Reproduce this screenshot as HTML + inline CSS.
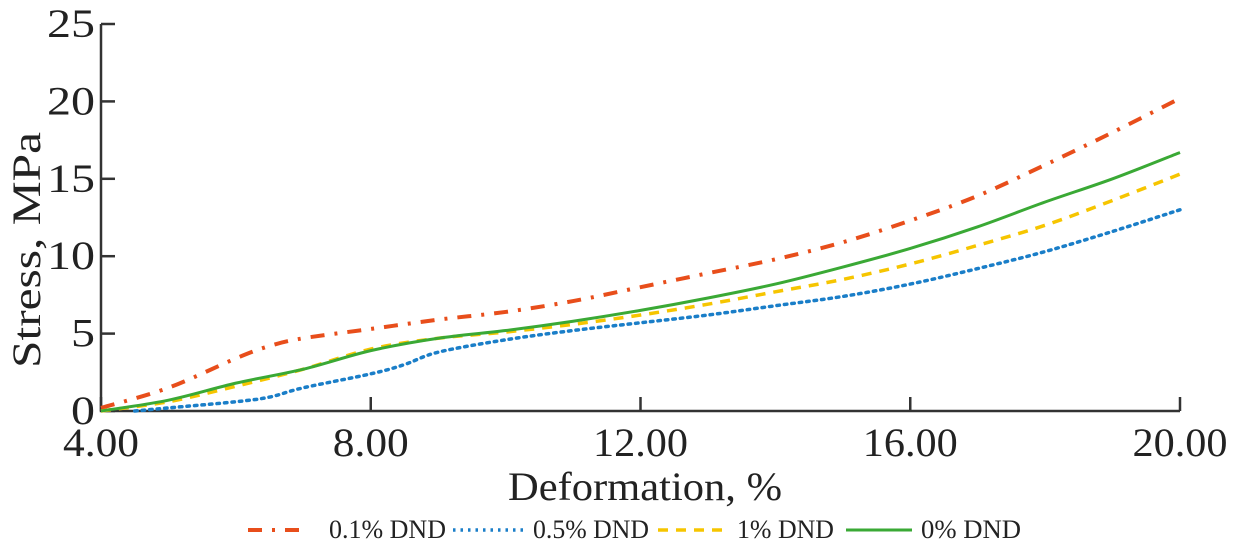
<!DOCTYPE html>
<html><head><meta charset="utf-8"><style>
body{margin:0;background:#fff;width:1245px;height:547px;overflow:hidden}
text{font-family:"Liberation Serif",serif;fill:#222}
</style></head><body>
<svg id="chart" width="1245" height="547" xmlns="http://www.w3.org/2000/svg">
<g id="axes"></g><g id="series"></g><g id="legend"></g>
</svg>
<script>
const xTicks=[4,8,12,16,20];
const xTickLabels=["4.00","8.00","12.00","16.00","20.00"];
const yTicks=[0,5,10,15,20,25];
const redX=[4,5,6,6.5,7,8,9,10,11,12,13,14,15,16,17,18,19,20];
const redY=[0.2,1.5,3.4,4.2,4.7,5.3,5.9,6.4,7.1,8.0,8.9,9.8,10.9,12.3,13.9,15.9,18.0,20.2];
const blueX=[4.5,5,6,6.5,7,8,8.5,9,10,11,12,13,14,15,16,17,18,19,20];
const blueY=[0,0.2,0.6,0.9,1.5,2.4,3.0,3.8,4.6,5.2,5.7,6.2,6.8,7.4,8.2,9.2,10.3,11.6,13.0];
const yelX=[4,5,6,7,8,9,10,11,12,13,14,15,16,17,18,19,20];
const yelY=[0,0.6,1.6,2.7,4.0,4.7,5.1,5.6,6.2,6.9,7.7,8.5,9.5,10.7,12.0,13.6,15.3];
const grnX=[4,5,6,7,8,9,10,11,12,13,14,15,16,17,18,19,20];
const grnY=[0,0.7,1.8,2.7,3.9,4.7,5.2,5.8,6.5,7.3,8.2,9.3,10.5,11.9,13.5,15.0,16.7];
const NS="http://www.w3.org/2000/svg";
const X0=101,X1=1180,Y0=411,Y1=24;
const sx=v=>X0+(v-4)/16*(X1-X0);
const sy=v=>Y0-v/25*(Y0-Y1);
function mk(tag,attrs,parent){const e=document.createElementNS(NS,tag);for(const k in attrs)e.setAttribute(k,attrs[k]);parent.appendChild(e);return e;}
const axes=document.getElementById('axes');
let a=mk('path',{d:`M${X0},${Y1}V${Y0}H${X1}`,stroke:'#333','stroke-width':2.5,fill:'none'},axes);


yTicks.forEach(v=>{
 let t=mk('line',{x1:X0,x2:X0+14,y1:sy(v),y2:sy(v),stroke:'#333','stroke-width':2.5},axes);
 
 
 const s=String(v);
 let l=mk('text',{x:X0-6,y:sy(v)+13,'text-anchor':'end','font-size':40,textLength:s.length*24,lengthAdjust:'spacingAndGlyphs'},axes);l.textContent=s;
 
 
});
xTicks.forEach((v,i)=>{
 let t=mk('line',{x1:sx(v),x2:sx(v),y1:Y0,y2:Y0-14,stroke:'#333','stroke-width':2.5},axes);
 
 
 const s=xTickLabels[i];
 let l=mk('text',{x:sx(v),y:456,'text-anchor':'middle','font-size':40,textLength:s.length*19,lengthAdjust:'spacingAndGlyphs'},axes);l.textContent=s;
 
 
});
let xt=mk('text',{x:645,y:500,'text-anchor':'middle','font-size':40,textLength:274,lengthAdjust:'spacingAndGlyphs'},axes);xt.textContent='Deformation, %';


let yt=mk('text',{x:0,y:0,'text-anchor':'middle','font-size':40,textLength:236,lengthAdjust:'spacingAndGlyphs',transform:'translate(40,250) rotate(-90)'},axes);yt.textContent='Stress, MPa';


function smooth(xs,ys){const p=xs.map((x,i)=>[sx(x),sy(ys[i])]);let d=`M${p[0][0]},${p[0][1]}`;
 for(let i=0;i<p.length-1;i++){const p0=p[i-1]||p[i],p1=p[i],p2=p[i+1],p3=p[i+2]||p2;
  d+=`C${p1[0]+(p2[0]-p0[0])/6},${p1[1]+(p2[1]-p0[1])/6} ${p2[0]-(p3[0]-p1[0])/6},${p2[1]-(p3[1]-p1[1])/6} ${p2[0]},${p2[1]}`;}return d;}
const series=[
 {n:'series-0-1pct',xs:redX,ys:redY,c:'#e84e1b',da:'14 10 3 10',w:4,lab:'0.1% DND',lx:248,lw:60,tx:329,tw:117},
 {n:'series-0-5pct',xs:blueX,ys:blueY,c:'#1a7ec8',da:'2.5 5',w:3.5,lab:'0.5% DND',lx:453,lw:70,tx:533,tw:116},
 {n:'series-1pct',xs:yelX,ys:yelY,c:'#f6c500',da:'10 8',w:3.5,lab:'1% DND',lx:658,lw:68,tx:737,tw:97},
 {n:'series-0pct',xs:grnX,ys:grnY,c:'#3aa935',da:'',w:3,lab:'0% DND',lx:846,lw:66,tx:921,tw:100}];
const sg=document.getElementById('series'),lg=document.getElementById('legend');
series.forEach((s,i)=>{
 let p=mk('path',{d:smooth(s.xs,s.ys),stroke:s.c,'stroke-width':s.w,fill:'none','stroke-dasharray':s.da,'stroke-linecap':s.da.startsWith('2.5')?'round':'butt'},sg);
 
 
 let ll=mk('line',{x1:s.lx,x2:s.lx+s.lw,y1:530,y2:530,stroke:s.c,'stroke-width':s.w,'stroke-dasharray':s.da},lg);
 
 
 let lt=mk('text',{x:s.tx,y:538,'font-size':26,textLength:s.tw,lengthAdjust:'spacingAndGlyphs'},lg);lt.textContent=s.lab;
 
 
});
</script>
</body></html>
